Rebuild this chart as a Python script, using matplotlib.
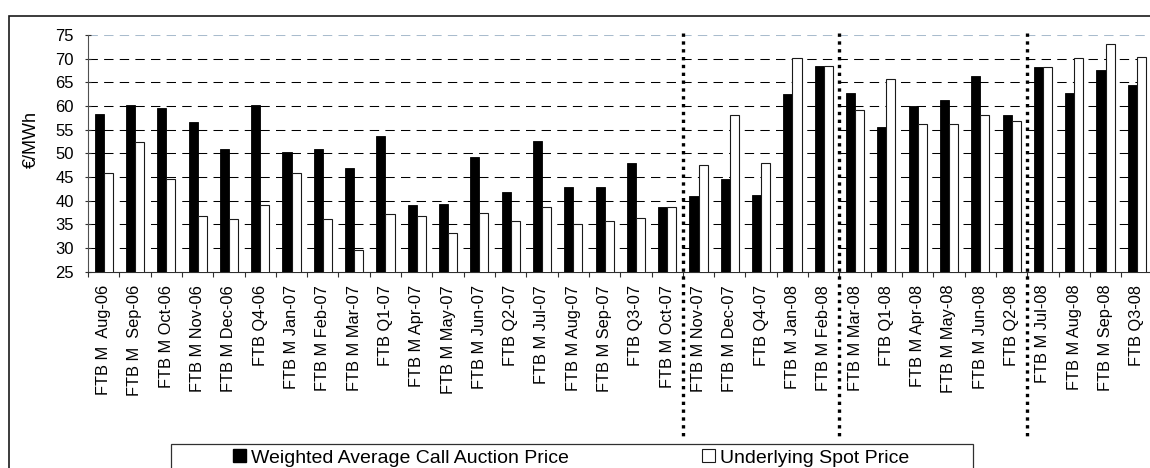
import matplotlib
matplotlib.use("Agg")
import matplotlib.pyplot as plt
from matplotlib.patches import Rectangle, Patch
import numpy as np

plt.rcParams["font.family"] = ["Liberation Sans", "DejaVu Sans"]

# contracts, in auction order
contracts = ["FTB M  Aug-06", "FTB M  Sep-06", "FTB M Oct-06", "FTB M Nov-06",
             "FTB M Dec-06", "FTB Q4-06", "FTB M Jan-07", "FTB M Feb-07",
             "FTB M Mar-07", "FTB Q1-07", "FTB M Apr-07", "FTB M May-07",
             "FTB M Jun-07", "FTB Q2-07", "FTB M Jul-07", "FTB M Aug-07",
             "FTB M Sep-07", "FTB Q3-07", "FTB M Oct-07", "FTB M Nov-07",
             "FTB M Dec-07", "FTB Q4-07", "FTB M Jan-08", "FTB M Feb-08",
             "FTB M Mar-08", "FTB Q1-08", "FTB M Apr-08", "FTB M May-08",
             "FTB M Jun-08", "FTB Q2-08", "FTB M Jul-08", "FTB M Aug-08",
             "FTB M Sep-08", "FTB Q3-08"]

auction_price = [58.3, 60.2, 59.6, 56.6, 50.9, 60.2, 50.2, 50.9, 46.9, 53.7,
                 39.1, 39.4, 49.2, 41.8, 52.6, 42.8, 42.8, 48.0, 38.6, 40.9,
                 44.5, 41.3, 62.5, 68.5, 62.8, 55.6, 59.9, 61.3, 66.3, 58.0,
                 68.2, 62.8, 67.7, 64.4]

spot_price = [45.8, 52.5, 44.5, 36.7, 36.1, 39.0, 45.8, 36.1, 29.6, 37.1,
              36.7, 33.1, 37.5, 35.8, 38.6, 35.0, 35.8, 36.3, 38.6, 47.5,
              58.2, 47.9, 70.1, 68.5, 59.1, 65.8, 56.1, 56.3, 58.2, 56.9,
              68.2, 70.1, 73.1, 70.3]

# boundaries (category index) where the dotted separators are drawn
period_breaks = [19, 24, 30]

y_ticks = [25, 30, 35, 40, 45, 50, 55, 60, 65, 70, 75]

W, H = 1150, 468
fig = plt.figure(figsize=(W / 100, H / 100), dpi=100)
ax = fig.add_axes([88 / W, (H - 271.7) / H, 1064.5 / W, 236.7 / H])

n = len(contracts)
centers = np.arange(n) + 0.5
bw = 0.29

ax.bar(centers - bw / 2, auction_price, width=bw, color="black",
       edgecolor="black", linewidth=0.6, zorder=3)
ax.bar(centers + bw / 2, spot_price, width=bw, color="white",
       edgecolor="#1a1a1a", linewidth=0.8, zorder=3)

ax.set_xlim(0, n)
ax.set_ylim(25, 75)

# dashed grid, top line lighter
for v in y_ticks[1:]:
    col = "#a9bccd" if v == 75 else "black"
    ax.axhline(v, color=col, lw=0.75, linestyle=(0, (9, 6)), zorder=1)

ax.set_yticks(y_ticks)
ax.tick_params(axis="y", direction="inout", length=5, width=0.8,
               colors="#303030", labelcolor="black", labelsize=12, pad=7.5)

ax.set_xticks(centers)
ax.set_xticklabels(contracts, rotation=90, fontsize=11.75)
ax.set_xticks(np.arange(n + 1), minor=True)
ax.tick_params(axis="x", which="major", length=0, pad=9.4)
ax.tick_params(axis="x", which="minor", direction="out", length=3.6,
               width=0.8, colors="#303030")

for s in ["top", "right"]:
    ax.spines[s].set_visible(False)
ax.spines["left"].set_color("#505050")
ax.spines["left"].set_linewidth(0.8)
ax.spines["bottom"].set_color("#303030")
ax.spines["bottom"].set_linewidth(0.8)

# dotted separators reaching down to the legend
for b in period_breaks:
    ax.plot([b, b], [1.0085, -0.70], transform=ax.get_xaxis_transform(),
            clip_on=False, color="black", lw=2.4, linestyle=(0, (1, 1.35)),
            zorder=5)

fig.text(31 / W, 1 - 139 / H, "€/MWh", rotation=90, ha="center", va="center",
         fontsize=13)

# outer chart border (runs off the right and bottom)
fig.add_artist(Rectangle((9.3 / W, -0.1), 1.2, 1 - 15.7 / H + 0.1,
                         transform=fig.transFigure, fill=False,
                         edgecolor="#1a1a1a", lw=1.2))

# legend box
fig.add_artist(Rectangle((170.7 / W, -0.1), (972.5 - 170.7) / W,
                         (H - 444) / H + 0.1, transform=fig.transFigure,
                         fill=False, edgecolor="#303030", lw=0.9))
handles = [Patch(facecolor="black", edgecolor="black"),
           Patch(facecolor="white", edgecolor="#1a1a1a", lw=0.8)]
fig.legend(handles, ["Weighted Average Call Auction Price", "Underlying Spot Price"],
           ncol=2, loc="center left", bbox_to_anchor=(233 / W, 1 - 458 / H),
           frameon=False, fontsize=14, handlelength=0.67, handleheight=0.63,
           handletextpad=0.25, columnspacing=6.85, borderpad=0, borderaxespad=0)

fig.savefig("out.png", dpi=100)
